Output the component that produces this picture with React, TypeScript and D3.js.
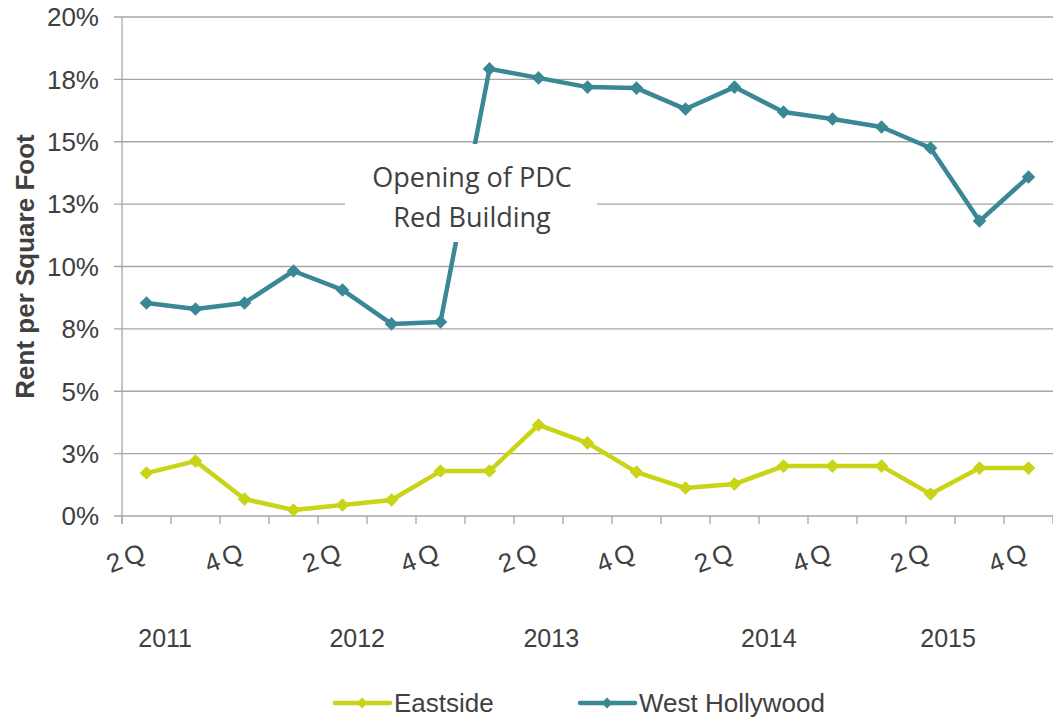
import React from 'react'
import * as d3 from 'd3'

const quarters = ['2Q', '3Q', '4Q', '1Q', '2Q', '3Q', '4Q', '1Q', '2Q', '3Q', '4Q', '1Q', '2Q', '3Q', '4Q', '1Q', '2Q', '3Q', '4Q']
const quarterLabels = ['2Q', '', '4Q', '', '2Q', '', '4Q', '', '2Q', '', '4Q', '', '2Q', '', '4Q', '', '2Q', '', '4Q']
const years = ['2011', '2012', '2013', '2014', '2015']
const yearPositions = [0.88, 4.8, 8.76, 13.2, 16.86]

const eastside = [1.72, 2.2, 0.68, 0.24, 0.44, 0.64, 1.8, 1.8, 3.65, 2.93, 1.76, 1.12, 1.28, 2.0, 2.0, 2.0, 0.88, 1.92, 1.92]
const westHollywood = [8.54, 8.3, 8.54, 9.82, 9.06, 7.7, 7.78, 17.92, 17.56, 17.19, 17.15, 16.31, 17.19, 16.19, 15.91, 15.59, 14.75, 11.82, 13.59]

const yTicks = [0, 2.5, 5, 7.5, 10, 12.5, 15, 17.5, 20]
const yTickLabels = ['0%', '3%', '5%', '8%', '10%', '13%', '15%', '18%', '20%']

const series = [
  { name: 'Eastside', values: eastside, color: '#c9d416' },
  { name: 'West Hollywood', values: westHollywood, color: '#3a8796' },
]

const annotation = ['Opening of PDC', 'Red Building']

const width = 1053
const height = 720
const margin = { top: 17, right: 0, bottom: 204, left: 122 }
const textColor = '#404040'
const gridColor = '#a6a6a6'

export default function App() {
  const x = d3.scaleBand<number>()
    .domain(quarters.map((_, i) => i))
    .range([margin.left, width - margin.right])
  const y = d3.scaleLinear()
    .domain([0, 20])
    .range([height - margin.bottom, margin.top])
  const cx = (i: number) => (x(i) ?? 0) + x.bandwidth() / 2
  const line = d3.line<number>()
    .x((_, i) => cx(i))
    .y(d => y(d))
  const diamond = d3.symbol().type(d3.symbolSquare).size(92)()
  const legendDiamond = d3.symbol().type(d3.symbolSquare).size(60)()
  const y0 = y(0)
  const boundaries = quarters.map((_, i) => x(i) ?? 0).concat([x.range()[1]])

  return (
    <svg width={width} height={height} style={{ position: 'absolute', left: 0, top: 0, fontFamily: 'Liberation Sans, Arial, sans-serif' }}>
      <rect width={width} height={height} fill="#fff" />
      {/* grid + y labels */}
      {yTicks.map((t, i) => (
        <g key={t}>
          <line x1={margin.left - 8} x2={width} y1={y(t)} y2={y(t)} stroke={gridColor} strokeWidth={1.3} />
          <text x={99} y={y(t)} dy="0.36em" textAnchor="end" fontSize={26} fill={textColor}>{yTickLabels[i]}</text>
        </g>
      ))}
      <line x1={margin.left} x2={margin.left} y1={margin.top} y2={y0 + 8} stroke={gridColor} strokeWidth={1.3} />
      {boundaries.map((b, i) => (
        <line key={i} x1={b} x2={b} y1={y0} y2={y0 + 8} stroke={gridColor} strokeWidth={1.3} />
      ))}
      {/* x labels */}
      {quarterLabels.map((q, i) => q && (
        <text key={i} transform={`translate(${cx(i) + 4}, ${y0 + 42}) rotate(-21)`} textAnchor="end" fontSize={26} fill={textColor} letterSpacing={4}>{q}</text>
      ))}
      {years.map((yr, i) => (
        <text key={yr} x={margin.left + yearPositions[i] * x.step()} y={647} textAnchor="middle" fontSize={25} fill={textColor}>{yr}</text>
      ))}
      <text transform={`translate(34, ${(margin.top + y0) / 2}) rotate(-90)`} textAnchor="middle" fontSize={26} fontWeight="bold" fill={textColor}>Rent per Square Foot</text>
      {/* series */}
      {series.map(s => (
        <g key={s.name}>
          <path d={line(s.values) ?? ''} fill="none" stroke={s.color} strokeWidth={4.5} strokeLinejoin="round" />
          {s.values.map((v, i) => (
            <path key={i} d={diamond} transform={`translate(${cx(i)}, ${y(v)}) rotate(45)`} fill={s.color} />
          ))}
        </g>
      ))}
      {/* annotation */}
      <rect x={345} y={144} width={252} height={98} fill="#fff" />
      {annotation.map((a, i) => (
        <text key={a} x={472} y={187 + i * 40} textAnchor="middle" fontSize={27} fontFamily="Open Sans, sans-serif" fill={textColor}>{a}</text>
      ))}
      {/* legend */}
      {series.map((s, i) => {
        const lx = 335 + i * 245
        return (
          <g key={s.name}>
            <line x1={lx} x2={lx + 55} y1={703} y2={703} stroke={s.color} strokeWidth={4.5} strokeLinecap="round" />
            <path d={legendDiamond} transform={`translate(${lx + 27}, 703) rotate(45)`} fill={s.color} />
            <text x={lx + 59} y={712} fontSize={26} fill={textColor}>{s.name}</text>
          </g>
        )
      })}
    </svg>
  )
}
